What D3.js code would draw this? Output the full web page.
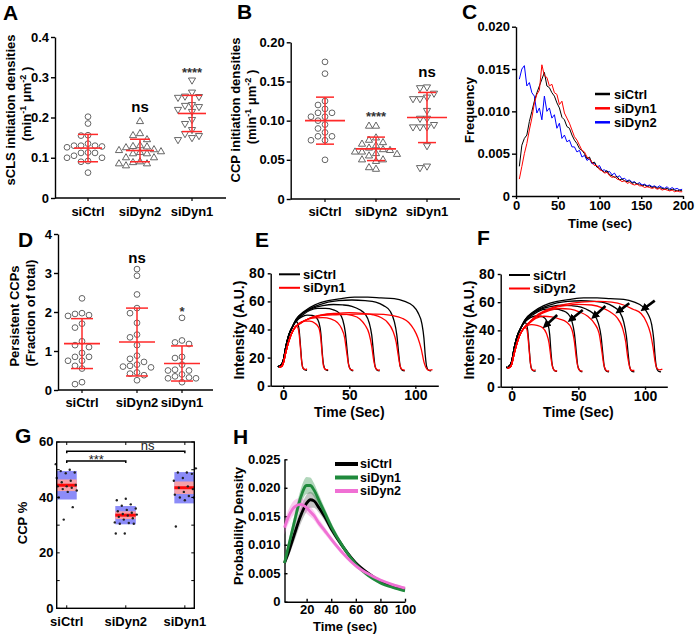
<!DOCTYPE html>
<html lang="en">
<head>
<meta charset="UTF-8">
<title>Dynamin knockdown panels A-H</title>
<script src="https://d3js.org/d3.v7.min.js"></script>
<style>
  body { margin: 0; background: #fff; }
</style>
</head>
<body>
<script>
// ---------------- data ----------------
const groups = ["siCtrl", "siDyn2", "siDyn1"];

// A: sCLS initiation densities
const aCtrl = [0.202, 0.185, 0.155, 0.156, 0.135, 0.13, 0.13, 0.13, 0.128, 0.126, 0.112, 0.112, 0.113, 0.105, 0.1, 0.1, 0.092, 0.09, 0.063];
const aDyn2 = [0.19, 0.16, 0.155, 0.145, 0.13, 0.128, 0.127, 0.125, 0.12, 0.118, 0.115, 0.113, 0.11, 0.11, 0.1, 0.1, 0.09, 0.088, 0.085, 0.085, 0.08];
const aDyn1 = [0.293, 0.263, 0.253, 0.252, 0.25, 0.232, 0.23, 0.227, 0.22, 0.215, 0.195, 0.185, 0.17, 0.16, 0.155, 0.15, 0.145];
const aMean = [0.124, 0.118, 0.21];
const aSd = [0.034, 0.028, 0.045];
const aSig = ["", "ns", "****"];
const aSigY = [0, 0.214, 0.30];

// B: CCP initiation densities
const bCtrl = [0.175, 0.16, 0.125, 0.12, 0.115, 0.11, 0.11, 0.105, 0.105, 0.1, 0.095, 0.09, 0.085, 0.08, 0.08, 0.075, 0.075, 0.05];
const bDyn2 = [0.093, 0.093, 0.078, 0.075, 0.072, 0.07, 0.068, 0.065, 0.063, 0.062, 0.06, 0.06, 0.058, 0.057, 0.055, 0.05, 0.05, 0.048, 0.04, 0.038];
const bDyn1 = [0.143, 0.142, 0.135, 0.13, 0.128, 0.128, 0.113, 0.103, 0.103, 0.095, 0.092, 0.092, 0.092, 0.068, 0.042, 0.04];
const bMean = [0.1, 0.064, 0.104];
const bSd = [0.03, 0.015, 0.032];
const bSig = ["", "****", "ns"];
const bSigY = [0, 0.0995, 0.1557];

// C: lifetime distributions
const cTime = [4, 7, 10, 13, 16, 19, 22, 25, 28, 31, 34, 37, 40, 43, 46, 49, 52, 55, 58, 61, 64, 67, 70, 73, 76, 79, 82, 85, 88, 91, 94, 97, 100,
  103, 106, 109, 112, 115, 118, 121, 124, 127, 130, 133, 136, 139, 142, 145, 148, 151, 154, 157, 160, 163, 166, 169, 172, 175, 178, 181, 184, 187, 190, 193, 196, 199];
const cCtrl = [0.0035, 0.0060, 0.0068, 0.0072, 0.0088, 0.0100, 0.0112, 0.0122, 0.0130, 0.0138, 0.0146, 0.0130, 0.0128, 0.0122, 0.0118, 0.0110, 0.0104,
  0.0093, 0.0090, 0.0082, 0.0080, 0.0072, 0.0066, 0.0062, 0.0056, 0.0054, 0.0050, 0.0044, 0.0046, 0.0039, 0.0040, 0.0034, 0.0033,
  0.0030, 0.0028, 0.0030, 0.0025, 0.0024, 0.0022, 0.0023, 0.0019, 0.0020, 0.0018, 0.0017, 0.0018, 0.0015, 0.0016, 0.0014, 0.0014,
  0.0012, 0.0013, 0.0011, 0.0012, 0.0010, 0.0011, 0.0009, 0.0010, 0.0009, 0.0008, 0.0009, 0.0007, 0.0008, 0.0007, 0.0006, 0.0007, 0.0006];
const cDyn1 = [0.0020, 0.0035, 0.0050, 0.0062, 0.0078, 0.0092, 0.0110, 0.0120, 0.0125, 0.0155, 0.0142, 0.0140, 0.0130, 0.0132, 0.0122, 0.0120, 0.0108,
  0.0112, 0.0098, 0.0092, 0.0086, 0.0078, 0.0070, 0.0066, 0.0060, 0.0054, 0.0052, 0.0046, 0.0044, 0.0040, 0.0036, 0.0036, 0.0031,
  0.0030, 0.0027, 0.0028, 0.0024, 0.0022, 0.0023, 0.0020, 0.0019, 0.0017, 0.0018, 0.0015, 0.0016, 0.0014, 0.0013, 0.0014, 0.0012,
  0.0012, 0.0010, 0.0011, 0.0010, 0.0009, 0.0010, 0.0008, 0.0009, 0.0007, 0.0008, 0.0007, 0.0006, 0.0007, 0.0005, 0.0006, 0.0005, 0.0005];
const cDyn2 = [0.0138, 0.0150, 0.0154, 0.0130, 0.0134, 0.0122, 0.0118, 0.0098, 0.0104, 0.0090, 0.0118, 0.0100, 0.0104, 0.0092, 0.0096, 0.0080, 0.0086,
  0.0068, 0.0072, 0.0064, 0.0066, 0.0058, 0.0058, 0.0052, 0.0054, 0.0046, 0.0048, 0.0042, 0.0044, 0.0038, 0.0039, 0.0034, 0.0036,
  0.0030, 0.0031, 0.0028, 0.0029, 0.0025, 0.0027, 0.0022, 0.0024, 0.0020, 0.0021, 0.0018, 0.0019, 0.0016, 0.0017, 0.0014, 0.0016,
  0.0013, 0.0014, 0.0012, 0.0013, 0.0011, 0.0012, 0.0010, 0.0012, 0.0010, 0.0009, 0.0011, 0.0008, 0.0010, 0.0008, 0.0009, 0.0007, 0.0008];

// D: persistent CCPs
const dCtrl = [2.35, 1.97, 1.95, 1.92, 1.9, 1.7, 1.6, 1.25, 1.15, 1.1, 0.95, 0.85, 0.85, 0.75, 0.75, 0.62, 0.55, 0.2, 0.15];
const dDyn2 = [3.1, 2.93, 2.45, 2.1, 1.97, 1.72, 1.42, 1.35, 1.15, 0.88, 0.8, 0.72, 0.65, 0.62, 0.6, 0.58, 0.45, 0.42, 0.38, 0.25];
const dDyn1 = [1.85, 1.27, 1.22, 1.18, 0.85, 0.82, 0.65, 0.52, 0.5, 0.5, 0.4, 0.35, 0.32, 0.3, 0.3, 0.2];
const dMean = [1.19, 1.23, 0.68];
const dSd = [0.64, 0.87, 0.45];
const dSig = ["", "ns", "*"];
const dSigY = [0, 3.26, 1.9];

// E/F: intensity cohorts [time, intensity]
const riseK = [[-4, 14], [-3, 13.5], [-2, 14.5], [-1, 15.5], [0, 18], [2, 28], [4, 35.5], [7, 42]];
const ctrlCohorts = [
  [...riseK, [8.5, 44.8], [10, 45.5], [11, 44.5], [12, 40], [13, 29], [14, 17], [15, 12.5], [16.5, 11.3], [18, 11]],
  [...riseK, [10, 46], [14, 49], [18, 50.2], [22, 50], [25, 48.5], [27, 45], [28.5, 37], [29.5, 24], [30.5, 15], [32, 11.5], [34, 10.8]],
  [...riseK, [10, 46.5], [15, 50.5], [20, 53.5], [26, 55], [32, 55], [38, 54], [42, 52], [45, 47], [47, 38], [48.5, 24], [49.5, 15], [51, 11.5], [53, 10.5]],
  [...riseK, [10, 47], [15, 51.5], [22, 55], [30, 57], [38, 57.8], [45, 57.5], [52, 56.5], [58, 54], [62, 51], [65, 45], [67, 36], [68.5, 22], [69.5, 14], [71, 11], [73, 10.5]],
  [...riseK, [10, 47.5], [16, 52.5], [24, 56.5], [32, 59], [42, 60.5], [52, 61], [62, 60.5], [70, 59.5], [76, 57], [81, 53], [84, 46], [86, 36], [87.5, 22], [88.5, 14], [90, 11], [92, 10.5]],
  [...riseK, [10, 47.5], [16, 53], [24, 57.5], [34, 60.5], [44, 62], [54, 63], [64, 63], [74, 62.5], [84, 62], [92, 60], [98, 57], [102, 52], [105, 44], [106.5, 34], [107.5, 22], [108.5, 14], [110, 11], [112, 10.5]]
];
const riseR = [[-3, 13], [-2, 13.5], [-1, 14], [0, 16], [2, 24], [4, 31], [6, 36.5]];
const dyn1Cohorts = [
  [...riseR, [8, 40.5], [9.5, 42.5], [11, 41.5], [12, 37], [13, 27], [14, 17], [15, 12.5], [16.5, 11.5], [18, 12]],
  [...riseR, [9, 41.5], [12, 44.5], [16, 46], [20, 46], [24, 44.5], [27, 41], [28.5, 33], [29.5, 22], [30.5, 14], [32, 11.5], [34, 11.5]],
  [...riseR, [9, 41.5], [13, 44.5], [18, 47], [24, 48.3], [30, 48.5], [36, 47.5], [41, 45], [44, 41], [46.5, 34], [48, 24], [49.5, 15], [51, 11.5], [53, 11]],
  [...riseR, [9, 41.5], [13, 44.5], [20, 48], [28, 50], [36, 51], [44, 51], [52, 50], [58, 47.5], [62, 43], [65, 37], [67, 28], [68.5, 18], [70, 12.5], [72, 11], [73, 11.5]],
  [...riseR, [9, 41.5], [13, 44.5], [20, 48], [30, 50.5], [40, 51.5], [50, 52], [60, 51.5], [68, 50.5], [74, 48.5], [79, 45], [83, 39], [85.5, 31], [87, 22], [88.5, 14], [90, 11.5], [92, 11]],
  [...riseR, [9, 41.5], [13, 44.5], [20, 48], [30, 50], [40, 50.5], [55, 51], [70, 51], [82, 50], [90, 48], [95, 45], [99, 40], [102, 34], [104.5, 26], [106.5, 17], [108, 13], [110, 11], [113, 11.5]]
];
const dyn2Cohorts = [
  [...riseR, [8, 40], [9.5, 42], [11, 41.5], [12, 37], [13, 27], [14, 17], [15, 12.5], [16.5, 11.5], [18, 12]],
  [...riseR, [8, 40], [11, 43], [15, 44], [19, 43.5], [23, 42], [26, 38], [28, 31], [29.5, 20], [31, 13], [33, 11], [34, 11.5]],
  [...riseR, [9, 41.5], [13, 45], [18, 48.5], [24, 50], [30, 49.5], [36, 48], [41, 46], [45, 41], [47, 32], [48.5, 20], [50, 13], [52, 11], [53, 11.5]],
  [...riseR, [9, 41.5], [13, 45], [20, 50.5], [28, 54], [36, 55.5], [44, 55], [51, 53], [57, 50], [62, 45], [65.5, 38], [67.5, 26], [69, 16], [70.5, 12], [72, 11], [73, 11.5]],
  [...riseR, [9, 41.5], [13, 45.5], [20, 51], [30, 55.5], [40, 57.5], [50, 58.5], [60, 58], [68, 56], [74, 53], [79, 49], [83, 42], [85.5, 32], [87, 21], [88.5, 14], [90, 11.5], [92, 11.5]],
  [...riseR, [9, 41.5], [13, 45.5], [20, 51.5], [30, 56], [40, 58.5], [52, 60], [65, 60.5], [75, 60], [84, 58], [91, 55], [97, 52], [101, 46], [104, 38], [106, 28], [107.5, 18], [109, 13], [111, 12], [113, 12.5]]
];
// F arrows: [tipT, tipY, tailT, tailY]
const fArrows = [[25.1, 43.1, 34.1, 50.9], [44, 47.4, 53.3, 54.5], [61.5, 49.7, 70.3, 57.3], [79.8, 53.3, 88.2, 59.2], [98.6, 55, 107.3, 61.1]];

// G: CCP %
const gCtrl = [52, 50, 49.5, 49, 48.7, 47, 46, 45.5, 44.5, 44, 44, 43.5, 43, 42.5, 42, 40, 36.5, 32];
const gDyn2 = [39.5, 39, 37.5, 37, 36, 35.5, 35, 34.5, 34, 33.8, 33.5, 33, 32.5, 32, 31, 30.8, 30.5, 30.5, 27, 27];
const gDyn1 = [50.5, 49, 49, 48.5, 47, 46, 44, 43.5, 43, 42, 41, 40.5, 40, 40, 39, 29.5];
const gMean = [44.4, 33.6, 43.5];
const gSem = [2.1, 1.4, 2.25];
const gSd = [5.15, 3.3, 5.65];
const gBrackets = [
  { from: 1, to: 3, y: 56.7, label: "ns", at: 2.37 },
  { from: 1, to: 2, y: 53.1, label: "***", at: 1.5 }
];

// H: probability density
const hTime = [2, 5, 10, 15, 20, 23, 26, 30, 35, 40, 50, 60, 70, 80, 90, 100];
const hCtrl = [0.0068, 0.0085, 0.0118, 0.0150, 0.0173, 0.0179, 0.0177, 0.0165, 0.0148, 0.0128, 0.0095, 0.0068, 0.0050, 0.0036, 0.0028, 0.0022];
const hCtrlErr = [0.0005, 0.0008, 0.0012, 0.0014, 0.0015, 0.0014, 0.0012, 0.0009, 0.0007, 0.0006, 0.0004, 0.0003, 0.0003, 0.0002, 0.0002, 0.0002];
const hDyn1 = [0.0068, 0.0095, 0.0140, 0.0182, 0.0204, 0.0204, 0.0196, 0.0178, 0.0155, 0.0132, 0.0095, 0.0066, 0.0046, 0.0033, 0.0025, 0.0019];
const hDyn1Err = [0.0005, 0.0008, 0.0012, 0.0014, 0.0015, 0.0014, 0.0012, 0.0010, 0.0008, 0.0007, 0.0005, 0.0004, 0.0003, 0.0002, 0.0002, 0.0002];
const hDyn2 = [0.0130, 0.0148, 0.0166, 0.0171, 0.0165, 0.0158, 0.0151, 0.0138, 0.0124, 0.0110, 0.0084, 0.0063, 0.0049, 0.0038, 0.0030, 0.0024];
const hDyn2Err = [0.0012, 0.0012, 0.0012, 0.0011, 0.0010, 0.0009, 0.0008, 0.0007, 0.0006, 0.0005, 0.0004, 0.0003, 0.0003, 0.0002, 0.0002, 0.0002];

// ---------------- drawing ----------------
const FONT = "'Liberation Sans', Arial, Helvetica, sans-serif";
const svg = d3.select("body").append("svg")
    .attr("width", 695).attr("height", 636)
    .attr("font-family", FONT);

const RED = "#ff2a2a";

function fixAxis(g, size) {
  g.attr("font-family", FONT).attr("font-size", size || 13).attr("font-weight", "bold");
  g.selectAll("path.domain, .tick line").attr("stroke", "#000").attr("stroke-width", 1.4);
  g.selectAll(".tick text").attr("fill", "#000");
}

function letter(txt, x, y) {
  svg.append("text").attr("x", x).attr("y", y).attr("font-size", 21).attr("font-weight", "bold").text(txt);
}

// rotated label; parts = [[string, isSuperscript], ...]
function yLabel(parts, x, y, size) {
  const t = svg.append("text").attr("transform", `translate(${x},${y}) rotate(-90)`)
      .attr("text-anchor", "middle").attr("font-size", size || 13).attr("font-weight", "bold");
  let prev = false;
  parts.forEach(([s, sup]) => {
    t.append("tspan").attr("dy", (sup ? -5 : 0) - (prev ? -5 : 0))
      .attr("font-size", sup ? 9 : null).text(s);
    prev = sup;
  });
}

function xLabel(txt, x, y, size) {
  svg.append("text").attr("x", x).attr("y", y).attr("text-anchor", "middle")
    .attr("font-size", size || 13).attr("font-weight", "bold").text(txt);
}

// greedy beeswarm, offsets limited to +-3 steps
function swarm(vals, y, step, dmin) {
  const pts = vals.map(v => ({ v, py: y(v) })).sort((a, b) => a.py - b.py);
  const placed = [];
  const cands = [0, -1, 1, -2, 2, -3, 3];
  pts.forEach(p => {
    let best = 0, bestD = -1;
    for (const c of cands) {
      const dx = c * step;
      const dd = d3.min(placed, q => Math.hypot(q.dx - dx, q.py - p.py));
      if (dd === undefined || dd >= dmin) { best = dx; bestD = Infinity; break; }
      if (dd > bestD) { bestD = dd; best = dx; }
    }
    p.dx = best;
    placed.push(p);
  });
  return placed;
}

function scatterPanel(p) {
  const y = d3.scaleLinear().domain(p.yDomain).range([p.y0, p.y1]);
  const x = d3.scaleOrdinal().domain(groups).range(p.centers);
  const g = svg.append("g");

  const ya = g.append("g").attr("transform", `translate(${p.axisX},0)`)
      .call(d3.axisLeft(y).tickValues(p.ticks).tickFormat(p.fmt).tickSize(4).tickPadding(2).tickSizeOuter(0));
  fixAxis(ya);
  g.append("line").attr("x1", p.axisX).attr("x2", p.axisRight).attr("y1", p.y0).attr("y2", p.y0)
    .attr("stroke", "#000").attr("stroke-width", 1.4);

  const symbolFor = {
    circle: d3.symbol().type(d3.symbolCircle).size(26)(),
    up: d3.symbol().type(d3.symbolTriangle).size(22)(),
    down: d3.symbol().type(d3.symbolTriangle).size(22)()
  };

  groups.forEach((gr, i) => {
    const cx = x(gr);
    g.append("line").attr("x1", cx).attr("x2", cx).attr("y1", p.y0).attr("y2", p.y0 + 3)
      .attr("stroke", "#000").attr("stroke-width", 1.2);
    g.append("text").attr("x", cx).attr("y", p.y0 + p.labelDy).attr("text-anchor", "middle")
      .attr("font-size", 13).attr("font-weight", "bold").text(gr);

    const shape = p.shapes[i];
    swarm(p.values[i], y, 7, 6.5).forEach(pt => {
      g.append("path").attr("d", symbolFor[shape])
        .attr("transform", `translate(${cx + pt.dx},${pt.py})` + (shape === "down" ? " rotate(180)" : ""))
        .attr("fill", "#fff").attr("stroke", "#555").attr("stroke-width", 0.9);
    });

    const m = p.mean[i], s = p.sd[i];
    g.append("line").attr("x1", cx).attr("x2", cx).attr("y1", y(m + s)).attr("y2", y(m - s))
      .attr("stroke", RED).attr("stroke-width", 1.5);
    [m + s, m - s].forEach(v => g.append("line")
      .attr("x1", cx - p.sdHalf).attr("x2", cx + p.sdHalf).attr("y1", y(v)).attr("y2", y(v))
      .attr("stroke", RED).attr("stroke-width", 1.5));
    g.append("line").attr("x1", cx - p.meanHalf).attr("x2", cx + p.meanHalf).attr("y1", y(m)).attr("y2", y(m))
      .attr("stroke", RED).attr("stroke-width", 1.6);

    if (p.sig[i]) {
      const star = p.sig[i].startsWith("*");
      g.append("text").attr("x", cx).attr("y", y(p.sigY[i])).attr("text-anchor", "middle")
        .attr("font-size", star ? 13 : 15).attr("font-weight", "bold").attr("fill", star ? "#333" : "#000")
        .text(p.sig[i]);
    }
  });
}

// ---- A ----
letter("A", 3, 20);
scatterPanel({
  yDomain: [0, 0.4], y0: 198, y1: 37, axisX: 55, axisRight: 226,
  centers: [88, 140, 192], ticks: [0, 0.1, 0.2, 0.3, 0.4],
  fmt: d => d === 0 ? "0" : d3.format(".1f")(d),
  values: [aCtrl, aDyn2, aDyn1], shapes: ["circle", "up", "down"],
  mean: aMean, sd: aSd, sig: aSig, sigY: aSigY, meanHalf: 14, sdHalf: 10, labelDy: 18
});
yLabel([["sCLS initiation densities", false]], 15, 110);
yLabel([["(min", false], ["-1", true], [" \u03bcm", false], ["-2", true], [" )", false]], 31, 104);

// ---- B ----
letter("B", 237, 19);
scatterPanel({
  yDomain: [0, 0.2], y0: 199, y1: 42.3, axisX: 290.7, axisRight: 460,
  centers: [325, 376, 427], ticks: [0, 0.05, 0.1, 0.15, 0.2],
  fmt: d => d === 0 ? "0" : d3.format(".2f")(d),
  values: [bCtrl, bDyn2, bDyn1], shapes: ["circle", "up", "down"],
  mean: bMean, sd: bSd, sig: bSig, sigY: bSigY, meanHalf: 20, sdHalf: 9, labelDy: 17
});
yLabel([["CCP initiation densities", false]], 240, 110);
yLabel([["(min", false], ["-1", true], [" \u03bcm", false], ["-2", true], [" )", false]], 256, 107);

// ---- C ----
letter("C", 462, 19);
{
  const x = d3.scaleLinear().domain([0, 200]).range([516, 683]);
  const y = d3.scaleLinear().domain([0, 0.02]).range([196, 26.7]);
  const ya = svg.append("g").attr("transform", "translate(516,0)")
      .call(d3.axisLeft(y).tickValues([0, 0.005, 0.01, 0.015, 0.02])
        .tickFormat(d => d === 0 ? "0" : d3.format(".3f")(d)).tickSize(4).tickPadding(2).tickSizeOuter(0));
  fixAxis(ya);
  const xa = svg.append("g").attr("transform", "translate(0,196)")
      .call(d3.axisBottom(x).tickValues([0, 50, 100, 150, 200]).tickSize(3).tickPadding(2).tickSizeOuter(0));
  fixAxis(xa);
  const line = d3.line().x((d, i) => x(cTime[i])).y(d => y(d));
  [[cDyn2, "#0000ff"], [cCtrl, "#000"], [cDyn1, "#ff0000"]].forEach(([vals, col]) => {
    svg.append("path").datum(vals).attr("d", line).attr("fill", "none")
      .attr("stroke", col).attr("stroke-width", 1);
  });
  [["siCtrl", "#000", 94], ["siDyn1", "#ff0000", 108.3], ["siDyn2", "#0000ff", 122.3]].forEach(([t, col, ly]) => {
    svg.append("line").attr("x1", 595).attr("x2", 610).attr("y1", ly).attr("y2", ly)
      .attr("stroke", col).attr("stroke-width", 2.5);
    svg.append("text").attr("x", 614).attr("y", ly).attr("dy", "0.35em")
      .attr("font-size", 13).attr("font-weight", "bold").text(t);
  });
  yLabel([["Frequency", false]], 474, 110);
  xLabel("Time (sec)", 600, 228);
}

// ---- D ----
letter("D", 18, 247);
scatterPanel({
  yDomain: [0, 4], y0: 390, y1: 234, axisX: 58, axisRight: 213,
  centers: [82, 137, 182], ticks: [0, 1, 2, 3, 4],
  fmt: d3.format("d"),
  values: [dCtrl, dDyn2, dDyn1], shapes: ["circle", "circle", "circle"],
  mean: dMean, sd: dSd, sig: dSig, sigY: dSigY, meanHalf: 18, sdHalf: 11, labelDy: 17
});
yLabel([["Persistent CCPs", false]], 19, 316);
yLabel([["(Fraction of total)", false]], 35, 313);

// ---- E / F ----
function tracePanel(p) {
  const x = d3.scaleLinear().domain(p.xDomain).range([p.axisX, p.axisRight]);
  const y = d3.scaleLinear().domain([0, 80]).range([p.y0, p.y1]);
  const ya = svg.append("g").attr("transform", `translate(${p.axisX},0)`)
      .call(d3.axisLeft(y).tickValues([0, 20, 40, 60, 80]).tickSize(3).tickPadding(3).tickSizeOuter(0));
  fixAxis(ya, 14);
  const xa = svg.append("g").attr("transform", `translate(0,${p.y0})`)
      .call(d3.axisBottom(x).tickValues([0, 50, 100]).tickSize(3).tickPadding(1).tickSizeOuter(0));
  fixAxis(xa, 14);
  const line = d3.line().x(d => x(d[0])).y(d => y(d[1])).curve(d3.curveMonotoneX);
  p.black.forEach(c => svg.append("path").datum(c).attr("d", line).attr("fill", "none")
    .attr("stroke", "#000").attr("stroke-width", 1.3));
  p.red.forEach(c => svg.append("path").datum(c).attr("d", line).attr("fill", "none")
    .attr("stroke", "#ff0000").attr("stroke-width", 1.3));
  [["siCtrl", "#000", p.y1 + 1], [p.redName, "#ff0000", p.y1 + 14.5]].forEach(([t, col, ly]) => {
    svg.append("line").attr("x1", p.legX).attr("x2", p.legX + 21).attr("y1", ly).attr("y2", ly)
      .attr("stroke", col).attr("stroke-width", 2);
    svg.append("text").attr("x", p.legX + 24).attr("y", ly).attr("dy", "0.35em")
      .attr("font-size", 13).attr("font-weight", "bold").text(t);
  });
  if (p.arrows) {
    svg.append("defs").append("marker").attr("id", "ahead").attr("viewBox", "0 0 10 10")
      .attr("refX", 6).attr("refY", 5).attr("markerWidth", 3.2).attr("markerHeight", 3.2).attr("orient", "auto")
      .append("path").attr("d", "M0,0 L10,5 L0,10 z").attr("fill", "#000");
    p.arrows.forEach(a => svg.append("line")
      .attr("x1", x(a[2])).attr("y1", y(a[3])).attr("x2", x(a[0])).attr("y2", y(a[1]))
      .attr("stroke", "#000").attr("stroke-width", 2.6).attr("marker-end", "url(#ahead)"));
  }
  yLabel([["Intensity (A.U.)", false]], p.axisX - 27, 330, 14);
  xLabel("Time (Sec)", x(50), 417, 14);
}

letter("E", 255, 247);
tracePanel({ xDomain: [-9.5, 117.4], axisX: 270.7, axisRight: 438.3, y0: 385.7, y1: 273.3,
  black: ctrlCohorts, red: dyn1Cohorts, redName: "siDyn1", legX: 279 });
letter("F", 477, 245);
tracePanel({ xDomain: [-8.25, 116.7], axisX: 500.7, axisRight: 667.3, y0: 386.7, y1: 274,
  black: ctrlCohorts, red: dyn2Cohorts, redName: "siDyn2", legX: 509, arrows: fArrows });

// ---- G ----
letter("G", 15, 443);
{
  const x = d3.scaleLinear().domain([0.83, 3.16]).range([56.7, 194.3]);
  const y = d3.scaleLinear().domain([0, 60]).range([608.3, 442]);
  const g = svg.append("g");
  const pts = [gCtrl, gDyn2, gDyn1];
  groups.forEach((gr, i) => {
    const c = x(i + 1);
    g.append("rect").attr("x", c - 10.5).attr("width", 20.5)
      .attr("y", y(gMean[i] + gSd[i])).attr("height", y(gMean[i] - gSd[i]) - y(gMean[i] + gSd[i]))
      .attr("fill", "#8c8cf8");
    g.append("rect").attr("x", c - 10.5).attr("width", 20.5)
      .attr("y", y(gMean[i] + gSem[i])).attr("height", y(gMean[i] - gSem[i]) - y(gMean[i] + gSem[i]))
      .attr("fill", "#f7a0a8");
    g.append("line").attr("x1", c - 10.5).attr("x2", c + 10).attr("y1", y(gMean[i])).attr("y2", y(gMean[i]))
      .attr("stroke", "#ff0a0a").attr("stroke-width", 3);
    pts[i].forEach((v, k) => {
      const jit = ((k * 37 + i * 11) % 23) - 11;
      g.append("circle").attr("cx", c + jit).attr("cy", y(v)).attr("r", 1.2).attr("fill", "#222");
    });
    g.append("text").attr("x", c).attr("y", 625.5).attr("text-anchor", "middle")
      .attr("font-size", 13).attr("font-weight", "bold").text(gr);
    // top / bottom inward ticks
    [[442, 445], [608.3, 605.3]].forEach(([a, b]) => g.append("line")
      .attr("x1", c).attr("x2", c).attr("y1", a).attr("y2", b).attr("stroke", "#000").attr("stroke-width", 1));
  });
  d3.range(0, 61, 10).forEach(v => {
    [[56.7, 59.7], [194.3, 191.3]].forEach(([a, b]) => g.append("line")
      .attr("x1", a).attr("x2", b).attr("y1", y(v)).attr("y2", y(v)).attr("stroke", "#000").attr("stroke-width", 1));
  });
  [0, 20, 40, 60].forEach(v => g.append("text").attr("x", 53.5).attr("y", y(v)).attr("dy", "0.34em")
    .attr("text-anchor", "end").attr("font-size", 13).attr("font-weight", "bold").text(v));
  g.append("rect").attr("x", 56.7).attr("y", 442).attr("width", 194.3 - 56.7).attr("height", 608.3 - 442)
    .attr("fill", "none").attr("stroke", "#000").attr("stroke-width", 1.4);
  gBrackets.forEach(b => {
    const yy = y(b.y);
    g.append("path").attr("d", `M${x(b.from)},${yy + 2}V${yy}H${x(b.to)}V${yy + 2}`)
      .attr("fill", "none").attr("stroke", "#000").attr("stroke-width", 1.5);
    g.append("text").attr("x", x(b.at)).attr("y", b.label === "ns" ? yy - 1.5 : yy + 3)
      .attr("text-anchor", "middle").attr("font-size", 13).attr("fill", "#222").text(b.label);
  });
  yLabel([["CCP %", false]], 27, 523);
}

// ---- H ----
letter("H", 233, 444);
{
  const x = d3.scaleLinear().domain([2, 100]).range([284.5, 405]);
  const y = d3.scaleLinear().domain([0, 0.025]).range([601.7, 459.3]);
  const ya = svg.append("g").attr("transform", "translate(284.5,0)")
      .call(d3.axisLeft(y).tickValues([0, 0.005, 0.01, 0.015, 0.02, 0.025])
        .tickFormat(d => d === 0 ? "0" : d3.format(".3f")(d)).tickSize(-3).tickPadding(4).tickSizeOuter(0));
  fixAxis(ya);
  const xa = svg.append("g").attr("transform", "translate(0,601.7)")
      .call(d3.axisBottom(x).tickValues([20, 40, 60, 80, 100]).tickSize(-3).tickPadding(3).tickSizeOuter(0));
  fixAxis(xa);
  const series = [
    [hCtrl, hCtrlErr, "#000", "#555"],
    [hDyn1, hDyn1Err, "#1f8a3c", "#1f8a3c"],
    [hDyn2, hDyn2Err, "#f070d4", "#f070d4"]
  ];
  const area = (m, e) => d3.area().x((d, i) => x(hTime[i])).y0((d, i) => y(m[i] - e[i])).y1((d, i) => y(m[i] + e[i]))
      .curve(d3.curveMonotoneX);
  series.forEach(([m, e, col, band]) => svg.append("path").datum(m).attr("d", area(m, e))
    .attr("fill", band).attr("opacity", 0.35));
  const line = d3.line().x((d, i) => x(hTime[i])).y(d => y(d)).curve(d3.curveMonotoneX);
  series.forEach(([m, e, col]) => svg.append("path").datum(m).attr("d", line)
    .attr("fill", "none").attr("stroke", col).attr("stroke-width", 2.8));
  [["siCtrl", "#000", 464], ["siDyn1", "#1f8a3c", 477.5], ["siDyn2", "#f070d4", 491]].forEach(([t, col, ly]) => {
    svg.append("line").attr("x1", 335).attr("x2", 358).attr("y1", ly).attr("y2", ly)
      .attr("stroke", col).attr("stroke-width", 4);
    svg.append("text").attr("x", 360).attr("y", ly).attr("dy", "0.35em")
      .attr("font-size", 12.5).attr("font-weight", "bold").text(t);
  });
  yLabel([["Probability Density", false]], 243, 526);
  xLabel("Time (sec)", 345, 631);
}
</script>
</body>
</html>
